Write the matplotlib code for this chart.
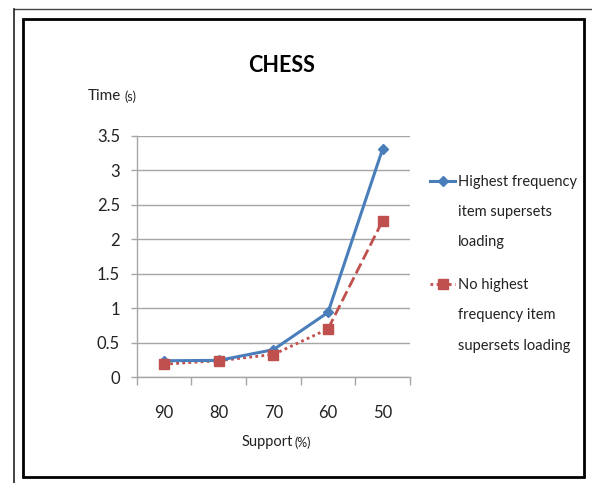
import matplotlib
matplotlib.use("Agg")
import matplotlib.pyplot as plt
from matplotlib.lines import Line2D
from matplotlib.patches import Rectangle

plt.rcParams['font.family'] = ['Lato', 'DejaVu Sans']

# Data
support = ['90', '80', '70', '60', '50']
with_loading = [0.24, 0.245, 0.40, 0.94, 3.31]
without_loading = [0.19, 0.24, 0.33, 0.70, 2.27]
y_ticks = [0, 0.5, 1, 1.5, 2, 2.5, 3, 3.5]
y_tick_labels = ['0', '0.5', '1', '1.5', '2', '2.5', '3', '3.5']

BLUE = '#4A7EBB'
RED = '#C0504D'
GRID = '#A6A6A6'
TEXT = '#222222'

W, H = 592, 483
fig = plt.figure(figsize=(W / 100, H / 100), dpi=100)


def fx(px):
    return px / W


def fy(py):
    return 1 - py / H


# Outer thin frame (top and left) and inner thick border
fig.add_artist(Line2D([fx(13.5), 1.0], [fy(9), fy(9)], color='#444444', lw=1.0,
                      transform=fig.transFigure))
fig.add_artist(Line2D([fx(13.5), fx(13.5)], [fy(9), 0.0], color='#222222', lw=1.2,
                      transform=fig.transFigure))
fig.add_artist(Rectangle((fx(23), fy(477)), fx(584) - fx(23), fy(19) - fy(477),
                         fill=False, edgecolor='black', lw=2.0,
                         transform=fig.transFigure))

# Plot area
left, right, top, bottom = 136.7, 410, 135.7, 377.3
ax = fig.add_axes([fx(left), fy(bottom), fx(right) - fx(left), fy(top) - fy(bottom)])

x = list(range(len(support)))
ax.plot(x, with_loading, color=BLUE, lw=2.2, marker='D', markersize=5,
        markerfacecolor=BLUE, markeredgecolor=BLUE, zorder=4)
# series without loading: dotted through 60, dashed on the last segment
ax.plot(x[:4], without_loading[:4], color=RED, lw=2.0, linestyle=(0, (1, 1.2)), zorder=3)
ax.plot(x[3:], without_loading[3:], color=RED, lw=2.0, linestyle=(0, (4, 1.6)), zorder=3)
ax.plot(x, without_loading, linestyle='none', marker='s', markersize=7,
        markerfacecolor=RED, markeredgecolor=RED, zorder=5)

ax.set_xlim(-0.5, len(support) - 0.5)
ax.set_ylim(0, 3.5)
ax.set_yticks(y_ticks)
ax.set_yticklabels(y_tick_labels)
ax.yaxis.grid(True, color=GRID, lw=1.0)
ax.set_axisbelow(True)

ax.set_xticks(x)
ax.set_xticklabels(support)
ax.set_xticks([i - 0.5 for i in range(len(support) + 1)], minor=True)
ax.tick_params(axis='x', which='major', length=0, pad=20, labelsize=12, colors=TEXT)
ax.tick_params(axis='x', which='minor', length=6, width=1.0, color=GRID, direction='out')
ax.tick_params(axis='y', which='major', length=4, width=1.0, color=GRID, pad=8,
               labelsize=12, labelcolor=TEXT)

for side in ('top', 'right'):
    ax.spines[side].set_visible(False)
for side in ('left', 'bottom'):
    ax.spines[side].set_color(GRID)
    ax.spines[side].set_linewidth(1.0)

# Titles and axis captions
fig.text(fx(281.5), fy(65.5), 'CHESS', fontsize=15.5, fontweight='bold',
         ha='center', va='center', color='black')
t_time = fig.text(fx(88), fy(100), 'Time', fontsize=11, ha='left', va='baseline',
                  color=TEXT)
ax.annotate('(s)', xy=(1, 0), xycoords=t_time, xytext=(2.5, 0), textcoords='offset points',
            fontsize=9, ha='left', va='bottom', color=TEXT)
t_sup = fig.text(fx(242), fy(446), 'Support', fontsize=10.5, ha='left', va='baseline',
                 color=TEXT)
ax.annotate('(%)', xy=(1, 0), xycoords=t_sup, xytext=(0.5, 0), textcoords='offset points',
            fontsize=9, ha='left', va='bottom', color=TEXT)

# Legend
fig.add_artist(Line2D([fx(430), fx(455)], [fy(181), fy(181)], color=BLUE, lw=2.2,
                      transform=fig.transFigure))
fig.add_artist(Line2D([fx(442.5)], [fy(181)], color=BLUE, marker='D', markersize=5,
                      linestyle='none', transform=fig.transFigure))
fig.add_artist(Line2D([fx(430), fx(455)], [fy(284), fy(284)], color=RED, lw=2.0,
                      linestyle=(0, (1, 1.2)), transform=fig.transFigure))
fig.add_artist(Line2D([fx(442.5)], [fy(284)], color=RED, marker='s', markersize=7,
                      linestyle='none', transform=fig.transFigure))

legend_rows = [
    ('Highest frequency', 182), ('item supersets', 212), ('loading', 242),
    ('No highest', 285), ('frequency item', 315), ('supersets loading', 346),
]
for txt, py in legend_rows:
    fig.text(fx(458), fy(py), txt, fontsize=10.5, ha='left', va='center', color=TEXT)

fig.savefig('out.png', dpi=100, facecolor='white')
